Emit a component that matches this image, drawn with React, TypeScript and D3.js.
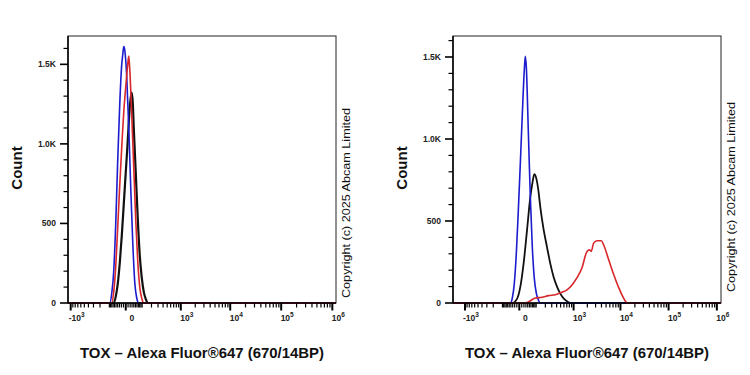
import React from "react";
import * as d3 from "d3";

// histogram outlines, [channel value, count]
const leftBlue: [number, number][] = [
  [-96.7, 0], [-80.5, 60], [-65.8, 200], [-52.1, 500], [-39.8, 900], [-28.4, 1250],
  [-18.1, 1500], [-13.3, 1560], [-8.6, 1612], [-4.2, 1590], [4.2, 1420], [13.3, 1100],
  [23.2, 720], [34, 380], [45.8, 130], [58.8, 30], [72.9, 0],
];
const leftRed: [number, number][] = [
  [-80.5, 0], [-65.8, 70], [-52.1, 230], [-39.8, 480], [-28.4, 740], [-18.1, 980],
  [-8.6, 1200], [0, 1360], [8.6, 1500], [13.3, 1552], [18.1, 1470], [28.4, 1180],
  [39.8, 850], [52.1, 520], [65.8, 260], [80.5, 100], [96.7, 30], [114.5, 0],
];
const leftBlack: [number, number][] = [
  [-65.8, 0], [-52.1, 40], [-39.8, 120], [-28.4, 250], [-18.1, 420], [-8.6, 620],
  [0, 820], [8.6, 1020], [18.1, 1230], [23.2, 1290], [28.4, 1322], [34, 1260],
  [39.8, 1100], [52.1, 820], [65.8, 530], [80.5, 300], [96.7, 160], [114.5, 70],
  [134, 25], [155.3, 0],
];
const rightBlue: [number, number][] = [
  [-43.5, 0], [-32.2, 30], [-21.8, 120], [-12.5, 300], [-4, 560], [4, 850],
  [12.5, 1150], [21.8, 1420], [26.9, 1504], [32.2, 1440], [43.5, 1050], [56, 650],
  [69.8, 340], [84.9, 150], [101.4, 60], [119.7, 20], [139.8, 0],
];
const rightBlack: [number, number][] = [
  [-32.2, 0], [-9.4, 25], [4, 98], [18.4, 240], [36, 443], [56, 646], [69.8, 728],
  [84.9, 785], [101.4, 760], [119.7, 690], [139.8, 585], [173.8, 460], [223, 341],
  [274.8, 240], [335.4, 159], [408.8, 100], [492.3, 57], [590, 28], [708, 10], [842, 0],
];
const rightRed: [number, number][] = [
  [26.9, 0], [93, 30], [158.4, 35], [247.1, 45], [370.7, 50], [540.6, 65], [708, 80],
  [920.8, 110], [1190, 155], [1532, 215], [1899, 305], [2203, 325], [2432, 315],
  [2723, 365], [3217, 380], [3967, 380], [4437, 355], [5653, 265], [7197, 175],
  [9152, 95], [11636, 30], [13066, 5], [13900, 0],
];

const yMajor = [0, 500, 1000, 1500];
const yLabels = ["0", "500", "1.0K", "1.5K"];
const xMajor = [-1000, 0, 1000, 10000, 100000, 1000000];
const xLabels: [string, string][] = [["-10", "3"], ["0", ""], ["10", "3"], ["10", "4"], ["10", "5"], ["10", "6"]];
const xTitle = "TOX – Alexa Fluor®647 (670/14BP)";
const yTitle = "Count";
const copyright = "Copyright (c) 2025 Abcam Limited";

const BLUE = "#1c1ccf";
const RED = "#d8262a";
const BLACK = "#111";

const font = "Arial, 'Liberation Sans', Helvetica, sans-serif";

type Series = { data: [number, number][]; color: string; width: number };

function xMinor(): number[] {
  const out: number[] = [];
  for (let n = 1; n <= 5; n++) {
    for (let m = 1; m <= 9; m++) {
      if (n >= 3 && m === 1) continue;
      const v = m * Math.pow(10, n);
      out.push(v, -v);
    }
  }
  return out;
}

function Panel({ x0, x1, c, xDomain, yMax, series, copyX, copyY }: {
  x0: number; x1: number; c: number; xDomain: [number, number]; yMax: number;
  series: Series[]; copyX: number; copyY: number;
}) {
  const top = 36;
  const bottom = 303;
  const x = d3.scaleSymlog().constant(c).domain(xDomain).range([x0, x1]);
  const y = d3.scaleLinear().domain([0, yMax]).range([bottom, top]);
  const line = d3.line<[number, number]>()
    .x(d => x(d[0]))
    .y(d => y(d[1]))
    .curve(d3.curveMonotoneX);

  const minorX = xMinor().filter(v => v > xDomain[0] && v < xDomain[1]);
  const minorY = d3.range(100, yMax, 100).filter(v => v % 500 !== 0);

  return (
    <g>
      <rect x={x0} y={top} width={x1 - x0} height={bottom - top} fill="#fff" stroke="#222" strokeWidth={1} />
      {series.map((s, i) => (
        <path key={i}
          d={line([[xDomain[0], 0], ...s.data, [xDomain[1], 0]]) || ""}
          fill="none" stroke={s.color} strokeWidth={s.width} strokeLinejoin="round" />
      ))}
      {/* y axis */}
      <line x1={x0} x2={x0} y1={top} y2={bottom} stroke="#000" strokeWidth={1.5} />
      {minorY.map(v => (
        <line key={v} x1={x0 - 4.5} x2={x0} y1={y(v)} y2={y(v)} stroke="#000" strokeWidth={1.2} />
      ))}
      {yMajor.map((v, i) => (
        <g key={v}>
          <line x1={x0 - 8} x2={x0} y1={y(v)} y2={y(v)} stroke="#000" strokeWidth={1.6} />
          <text x={x0 - 12} y={y(v)} dy="0.35em" textAnchor="end" fontSize={8.5}
            fontWeight="bold" fontFamily={font} fill="#222">{yLabels[i]}</text>
        </g>
      ))}
      {/* x axis */}
      <line x1={x0} x2={x1} y1={bottom} y2={bottom} stroke="#000" strokeWidth={1.5} />
      {minorX.map(v => (
        <line key={v} x1={x(v)} x2={x(v)} y1={bottom} y2={bottom + 4.5} stroke="#000" strokeWidth={1.2} />
      ))}
      {xMajor.map((v, i) => (
        <g key={v}>
          <line x1={x(v)} x2={x(v)} y1={bottom} y2={bottom + 7.5} stroke="#000" strokeWidth={2} />
          <text x={x(v) + 6} y={bottom + 18} textAnchor="middle" fontSize={8.5}
            fontWeight="bold" fontFamily={font} fill="#222">
            {xLabels[i][0]}
            {xLabels[i][1] && <tspan dy={-4.5} fontSize={6.5}>{xLabels[i][1]}</tspan>}
          </text>
        </g>
      ))}
      <text x={(x0 + x1) / 2} y={358} textAnchor="middle" fontSize={15} fontWeight="bold"
        fontFamily={font} fill="#111" textLength={244} lengthAdjust="spacingAndGlyphs">{xTitle}</text>
      <text transform={`translate(${x0 - 46},168) rotate(-90)`} textAnchor="middle" fontSize={15}
        fontWeight="bold" fontFamily={font} fill="#111">{yTitle}</text>
      <text transform={`translate(${copyX},${copyY}) rotate(-90)`} textAnchor="middle" fontSize={10}
        fontFamily={font} fill="#111" textLength={190} lengthAdjust="spacingAndGlyphs">{copyright}</text>
    </g>
  );
}

export default function App() {
  return (
    <svg width={750} height={375} viewBox="0 0 750 375"
      style={{ position: "absolute", left: 0, top: 0, background: "#fff" }}>
      <rect width={750} height={375} fill="#fff" />
      <Panel x0={68} x1={336} c={91.6} xDomain={[-1141, 1.18e6]} yMax={1678}
        copyX={350} copyY={203}
        series={[
          { data: leftBlack, color: BLACK, width: 2.2 },
          { data: leftBlue, color: BLUE, width: 1.6 },
          { data: leftRed, color: RED, width: 1.6 },
        ]} />
      <Panel x0={453} x1={721} c={81.2} xDomain={[-1835, 1.218e6]} yMax={1628}
        copyX={735} copyY={197}
        series={[
          { data: rightBlack, color: BLACK, width: 1.8 },
          { data: rightBlue, color: BLUE, width: 1.6 },
          { data: rightRed, color: RED, width: 1.6 },
        ]} />
    </svg>
  );
}
